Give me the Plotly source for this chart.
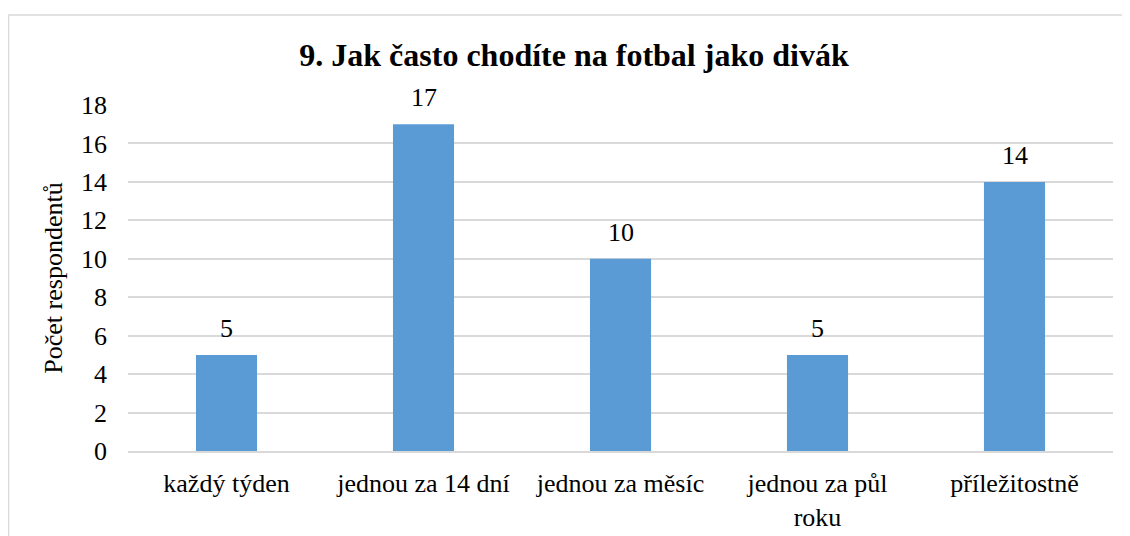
import plotly.graph_objects as go

categories = ["každý týden", "jednou za 14 dní", "jednou za měsíc", "jednou za půl<br>roku", "příležitostně"]
values = [5, 17, 10, 5, 14]
y_ticks = [0, 2, 4, 6, 8, 10, 12, 14, 16, 18]

FONT = "Liberation Serif"
OFF = 8  # page body offset
W, H = 1130 - OFF, 536 - OFF
L, R, T, B = 128 - OFF, 17, 105 - OFF, 85
pw, ph = W - L - R, H - T - B

fig = go.Figure(go.Bar(
    x=categories, y=values,
    marker=dict(color="#5b9bd5", line=dict(width=0)),
    hoverinfo="x+y",
))

for c, v in zip(categories, values):
    fig.add_annotation(x=c, y=v, text=str(v), showarrow=False,
                       yanchor="bottom", yshift=10,
                       font=dict(family=FONT, size=26, color="#000000"))

fig.update_layout(
    width=W, height=H,
    margin=dict(l=L, r=R, t=T, b=B, autoexpand=False),
    paper_bgcolor="white", plot_bgcolor="white",
    bargap=0.69,
    showlegend=False,
    title=dict(text="<b>9. Jak často chodíte na fotbal jako divák</b>",
               x=(574 - OFF) / W, xanchor="center", y=1 - (55 - OFF) / H, yanchor="middle",
               font=dict(family=FONT, size=32, color="#000000")),
    font=dict(family=FONT, color="#000000"),
    xaxis=dict(tickfont=dict(family=FONT, size=26, color="#000000"),
               showline=True, linecolor="#d9d9d9", linewidth=1.5,
               ticks="", showgrid=False, ticklabelstandoff=8, automargin=False),
    yaxis=dict(range=[0, 18], tickvals=y_ticks, ticktext=[str(t) for t in y_ticks],
               tickfont=dict(family=FONT, size=26, color="#000000"),
               showgrid=True, gridcolor="#d9d9d9", gridwidth=1.5,
               zeroline=False, showline=False, ticks="", ticklen=0,
               ticklabelstandoff=20, automargin=False,
               title=dict(text="Počet respondentů", font=dict(family=FONT, size=26, color="#000000"),
                          standoff=10)),
    shapes=[dict(type="rect", xref="paper", yref="paper",
                 x0=(8.5 - 128) / pw, x1=(1140 - 128) / pw,
                 y0=(451 - 545) / ph, y1=(451 - 15) / ph,
                 line=dict(color="#d9d9d9", width=1.5), fillcolor="rgba(0,0,0,0)", layer="below")],
)

fig.write_html("out.html")
